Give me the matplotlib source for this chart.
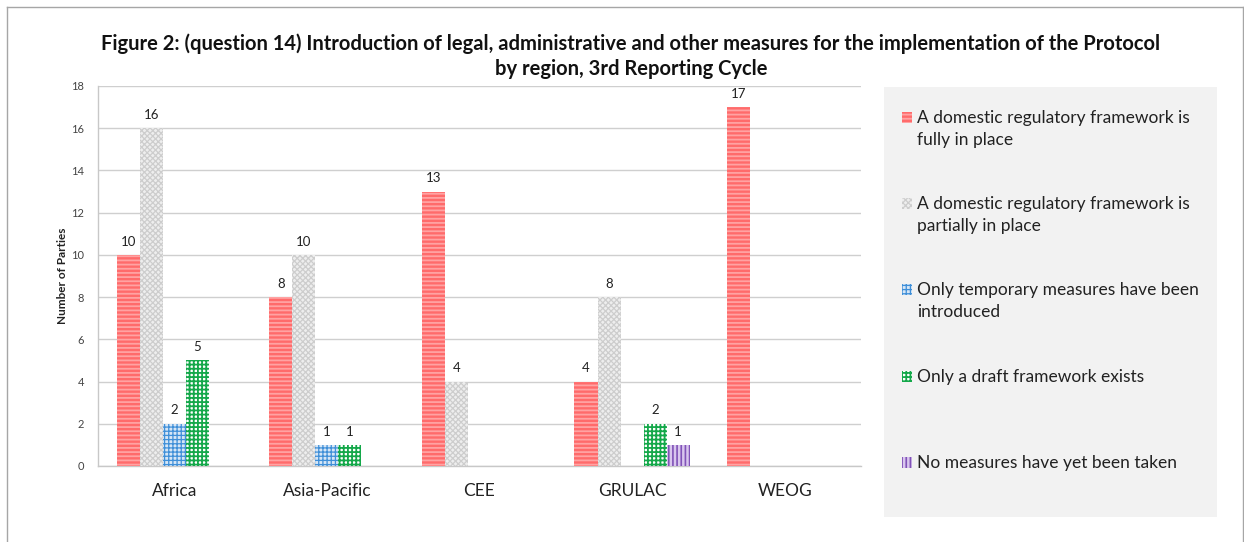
import matplotlib
matplotlib.use("Agg")
import matplotlib.pyplot as plt
from matplotlib.patches import Rectangle
from matplotlib.lines import Line2D
import numpy as np

plt.rcParams['font.family'] = ['Lato', 'DejaVu Sans']

regions = ["Africa", "Asia-Pacific", "CEE", "GRULAC", "WEOG"]
series_names = [
    "A domestic regulatory framework is\nfully in place",
    "A domestic regulatory framework is\npartially in place",
    "Only temporary measures have been\nintroduced",
    "Only a draft framework exists",
    "No measures have yet been taken",
]
fully_in_place = [10, 8, 13, 4, 17]
partially_in_place = [16, 10, 4, 8, 0]
temporary_measures = [2, 1, 0, 0, 0]
draft_framework = [5, 1, 0, 2, 0]
no_measures = [0, 0, 0, 1, 0]
y_ticks = [0, 2, 4, 6, 8, 10, 12, 14, 16, 18]

values = [fully_in_place, partially_in_place, temporary_measures,
          draft_framework, no_measures]

# (face, hatch colour, hatch pattern, hatch linewidth)
styles = [
    ("#ff6b6b", "#ffa3a3", "----", 1.3),
    ("#eeeeee", "#cdcdcd", "xxxxxx", 0.9),
    ("#d6e6f6", "#3f8fd8", "++++", 0.9),
    ("#ffffff", "#14a84a", "++++", 1.3),
    ("#d9c6ee", "#8153b8", "||||", 1.2),
]

W, H = 1244, 542
fig = plt.figure(figsize=(W / 100, H / 100), dpi=100)
ax = fig.add_axes([98 / W, 1 - 466 / H, (861 - 98) / W, (466 - 86) / H])

x = np.arange(len(regions))
bw = 0.151
n = len(values)
for i, (vals, (fc, hc, hatch, hlw)) in enumerate(zip(values, styles)):
    pos = x + (i - (n - 1) / 2) * bw
    with plt.rc_context({'hatch.linewidth': hlw}):
        bars = ax.bar(pos, vals, width=bw, color=fc, edgecolor=hc,
                      hatch=hatch, linewidth=0, zorder=3)
    for b, v in zip(bars, vals):
        if v > 0:
            ax.text(b.get_x() + b.get_width() / 2, v + 0.35, str(v),
                    ha='center', va='bottom', fontsize=9.5, color='#222222',
                    zorder=4)

ax.set_xlim(-0.5, len(regions) - 0.5)
ax.set_ylim(0, 18)
ax.set_yticks(y_ticks)
ax.set_xticks(x)
ax.set_xticklabels(regions, fontsize=12.5, color='#222222')
ax.tick_params(axis='y', labelsize=8, colors='#444444', length=0, pad=10)
ax.tick_params(axis='x', length=0, pad=12)
ax.yaxis.grid(True, color='#cfcfcf', linewidth=1.0, zorder=0)
ax.set_axisbelow(True)
for s in ['top', 'right']:
    ax.spines[s].set_visible(False)
for s in ['left', 'bottom']:
    ax.spines[s].set_color('#c8c8c8')
    ax.spines[s].set_linewidth(1.0)
ax.set_ylabel("Number of Parties", fontsize=8.5, fontweight='bold',
              color='#222222', labelpad=2)

fig.text(631 / W, 1 - 56 / H,
         "Figure 2: (question 14) Introduction of legal, administrative and other measures for the implementation of the Protocol\nby region, 3rd Reporting Cycle",
         ha='center', va='center', fontsize=14.5, fontweight='bold',
         color='#111111', linespacing=1.3)

# legend panel
fig.patches.append(Rectangle((884 / W, 1 - 517 / H), (1217 - 884) / W,
                             (517 - 87) / H, transform=fig.transFigure,
                             facecolor='#f2f2f2', edgecolor='none', zorder=0))
entry_y = [118, 204, 290, 377, 463]
for name, (fc, hc, hatch, hlw), yy in zip(series_names, styles, entry_y):
    with plt.rc_context({'hatch.linewidth': hlw}):
        fig.patches.append(Rectangle((902 / W, 1 - (yy + 5) / H), 10 / W,
                                     11 / H, transform=fig.transFigure,
                                     facecolor=fc, edgecolor=hc, hatch=hatch,
                                     linewidth=0, zorder=2))
    fig.text(917 / W, 1 - (yy - 8) / H, name, ha='left', va='top',
             fontsize=12.5, color='#222222', linespacing=1.5)

# outer frame
for xs, ys in [([7, 7], [7, H]), ([7, 1243], [7, 7]), ([1243, 1243], [7, H])]:
    fig.lines.append(Line2D([v / W for v in xs], [1 - v / H for v in ys],
                            transform=fig.transFigure, color='#a6a6a6',
                            linewidth=1.0))

fig.savefig("out.png", dpi=100)
